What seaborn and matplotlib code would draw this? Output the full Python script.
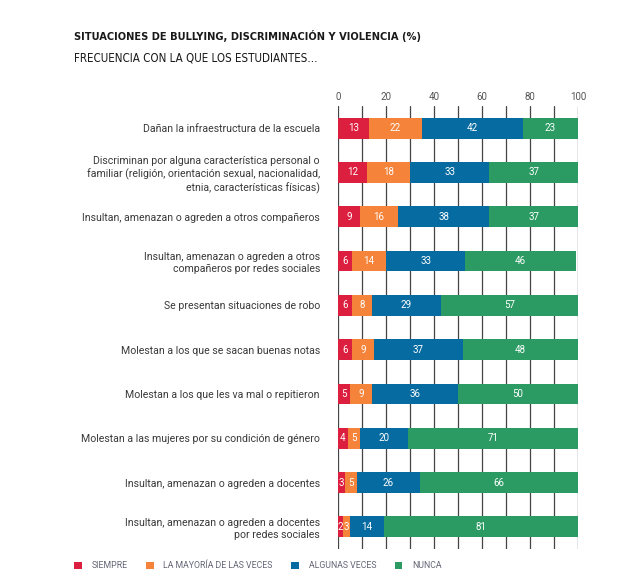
import matplotlib
matplotlib.use("Agg")
import matplotlib.pyplot as plt
import seaborn as sns
import pandas as pd
import numpy as np
from matplotlib.patches import Patch

categories = [
    "Dañan la infraestructura de la escuela",
    "Discriminan por alguna característica personal o\nfamiliar (religión, orientación sexual, nacionalidad,\netnia, características físicas)",
    "Insultan, amenazan o agreden a otros compañeros",
    "Insultan, amenazan o agreden a otros\ncompañeros por redes sociales",
    "Se presentan situaciones de robo",
    "Molestan a los que se sacan buenas notas",
    "Molestan a los que les va mal o repitieron",
    "Molestan a las mujeres por su condición de género",
    "Insultan, amenazan o agreden a docentes",
    "Insultan, amenazan o agreden a docentes\npor redes sociales",
]
siempre = [13, 12, 9, 6, 6, 6, 5, 4, 3, 2]
mayoria = [22, 18, 16, 14, 8, 9, 9, 5, 5, 3]
algunas = [42, 33, 38, 33, 29, 37, 36, 20, 26, 14]
nunca = [23, 37, 37, 46, 57, 48, 50, 71, 66, 81]
series_names = ["SIEMPRE", "LA MAYORÍA DE LAS VECES", "ALGUNAS VECES", "NUNCA"]
colors = ["#DC1F3F", "#F5843A", "#066BA0", "#2B9B63"]
xticks = [0, 20, 40, 60, 80, 100]

sns.set_theme(style="white")
plt.rcParams["font.family"] = ["Roboto", "DejaVu Sans"]

fig = plt.figure(figsize=(6.43, 5.83), dpi=100)
ax = fig.add_axes([338 / 643, 1 - 549 / 583, 240 / 643, (549 - 106) / 583])

vals = np.array([siempre, mayoria, algunas, nunca], dtype=float)
cum = np.cumsum(vals, axis=0)
df = pd.DataFrame({"cat": categories})
for i in range(3, -1, -1):
    df["v"] = cum[i]
    sns.barplot(data=df, x="v", y="cat", orient="h", color=colors[i],
                saturation=1, width=0.47, ax=ax, zorder=2, edgecolor="none")

# value labels
for i in range(4):
    starts = cum[i] - vals[i]
    for r in range(len(categories)):
        ax.text(starts[r] + vals[i][r] / 2, r, f"{int(vals[i][r])}",
                ha="center", va="center", color="white", fontsize=7, zorder=3)

ax.set_xlim(0, 100)
ax.set_ylim(9.5, -0.5)
ax.set_xticks(xticks)
ax.set_xticks([10, 30, 50, 70, 90], minor=True)
ax.xaxis.tick_top()
ax.tick_params(axis="x", which="both", length=0, pad=3, labelsize=7, labelcolor="#555555")
ax.tick_params(axis="y", length=0, pad=13, labelsize=7.6, labelcolor="#3a3a3a")
ax.grid(axis="x", which="both", color="#444444", linewidth=0.9)
ax.grid(axis="y", visible=False)
ax.set_axisbelow(True)
for s in ax.spines.values():
    s.set_visible(False)
ax.set_xlabel("")
ax.set_ylabel("")
for lbl in ax.get_yticklabels():
    lbl.set_multialignment("right")
    lbl.set_linespacing(1.25)

fig.text(74 / 643, 1 - 36 / 583, "SITUACIONES DE BULLYING, DISCRIMINACIÓN Y VIOLENCIA (%)",
         fontsize=7.9, fontweight="bold", fontstretch="condensed", color="#1a1a1a",
         va="center", family="DejaVu Sans")
fig.text(74 / 643, 1 - 58 / 583, "FRECUENCIA CON LA QUE LOS ESTUDIANTES...",
         fontsize=8.3, fontstretch="condensed", color="#1a1a1a", va="center",
         family="DejaVu Sans")

handles = [Patch(facecolor=c, edgecolor="none") for c in colors]
fig.legend(handles, series_names, loc="center left", bbox_to_anchor=(66 / 643, 1 - 566 / 583),
           ncol=4, frameon=False, fontsize=6.3, labelcolor="#666677",
           handlelength=0.9, handleheight=0.9, handletextpad=1.1, columnspacing=2.1)

fig.savefig("out.png", dpi=100)
